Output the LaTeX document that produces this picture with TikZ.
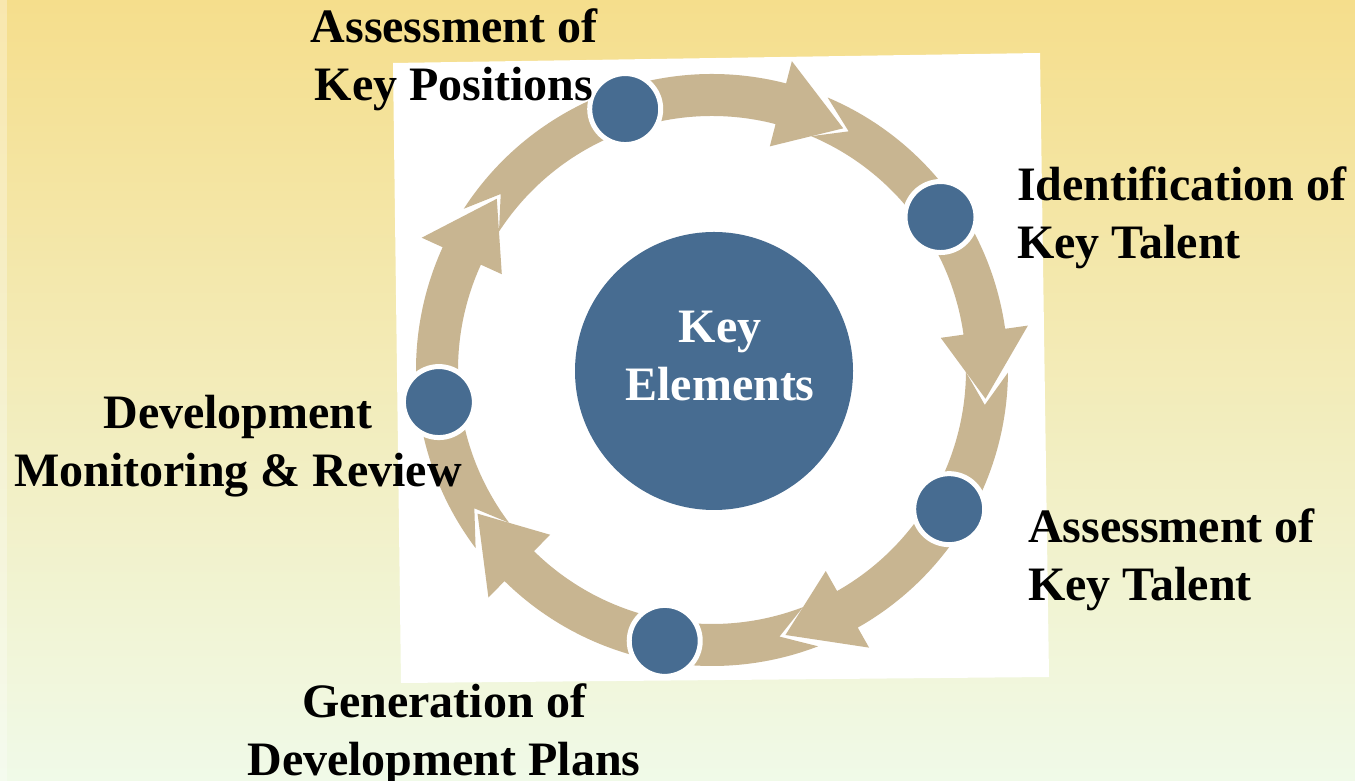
\documentclass[tikz,border=0pt]{standalone}
\usepackage{fontspec}
\setmainfont{Liberation Serif}

\definecolor{ringtan}{RGB}{200,181,145}
\definecolor{dotblue}{RGB}{71,108,145}
\definecolor{topyellow}{RGB}{245,222,140}
\definecolor{midcream}{RGB}{244,239,198}
\definecolor{bottomgreen}{RGB}{240,250,232}

\tikzset{
  stage/.style={circle,fill=dotblue,draw=white,line width=5pt,minimum size=71pt,inner sep=0pt},
  hub/.style={circle,fill=dotblue,minimum size=278pt,inner sep=0pt},
  lbl/.style={inner sep=0pt,font=\fontsize{48}{58}\selectfont\bfseries},
}

\begin{document}
\begin{tikzpicture}[x=1pt,y=1pt]
            \useasboundingbox (0,0) rectangle (1355,781);
            \shade[top color=topyellow,middle color=midcream,bottom color=bottomgreen] (0,0) rectangle (1355,781);
            \fill[white,opacity=0.3] (0,0) rectangle (7,781);
            % white card behind the cycle
            \fill[white] (393,718) -- (1040,728) -- (1049,104) -- (401,98) -- cycle;
            \begin{scope}[shift={(712,411)}]
                % curved arrows, each tail notched round the head before it
                \foreach \p/\t in {211.5/141.5, 141.5/61.5, 61.5/-6, -6/-74.5, -74.5/-148.5}
                    \fill[ringtan] ({\p+5.5}:296pt) arc[start angle=\p+5.5, end angle=\t+14, radius=296pt]
                        -- ({\t+14}:319pt) -- (\t:275pt) -- ({\t+14}:231pt) -- ({\t+14}:254pt)
                        arc[start angle=\t+14, end angle=\p+5.5, radius=254pt]
                        -- ({\p-1.3}:275pt) -- cycle;
                \node[hub] (hub) at (2,-1) {};
                \node[stage] (s1) at (108.4:275pt) {};
                \node[stage] (s2) at (33.8:275pt) {};
                \node[stage] (s3) at (-30.4:275pt) {};
                \node[stage] (s4) at (-99.9:275pt) {};
                \node[stage] (s5) at (186.7:275pt) {};
            \end{scope}
            \node[lbl,white,align=center,anchor=north,xshift=6pt,yshift=60pt] (hubtext) at (hub) {Key\\Elements};
            \node[lbl,align=center,anchor=north] (keypos) at (454,772) {Assessment of\\Key Positions};
            \node[lbl,align=left,anchor=north west] (identify) at (1017,614) {Identification of\\Key Talent};
            \node[lbl,align=left,anchor=north west] (assess) at (1028,272) {Assessment of\\Key Talent};
            \node[lbl,align=center,anchor=north] (plans) at (444,97) {Generation of\\Development Plans};
            \node[lbl,align=center,anchor=north] (review) at (238,386) {Development\\Monitoring \& Review};
        \end{tikzpicture}
\end{document}
